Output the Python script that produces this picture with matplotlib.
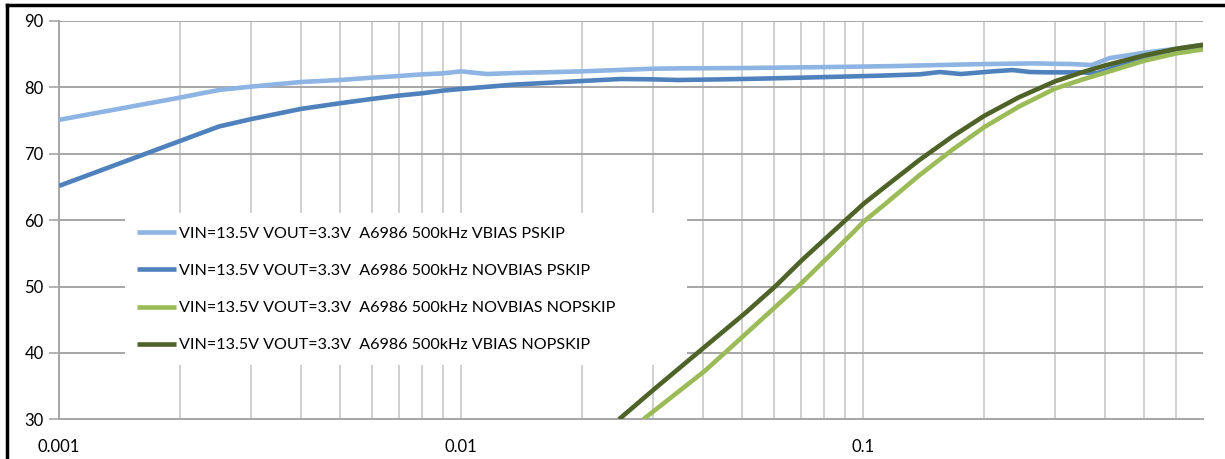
import matplotlib
matplotlib.use("Agg")
import matplotlib.pyplot as plt
from matplotlib.lines import Line2D
from matplotlib.patches import Rectangle
from matplotlib.ticker import FixedLocator, NullFormatter

plt.rcParams['font.family'] = ['Lato', 'DejaVu Sans']

# load current (A) vs efficiency (%)
x_vbias_pskip = [0.001, 0.002, 0.0025, 0.003, 0.004, 0.005, 0.006, 0.007, 0.008, 0.009,
                 0.01, 0.0116, 0.0135, 0.02, 0.03, 0.035, 0.05, 0.07, 0.094, 0.12,
                 0.167, 0.2, 0.266, 0.33, 0.37, 0.41, 0.5, 0.6, 0.7]
y_vbias_pskip = [75.1, 78.45, 79.6, 80.1, 80.8, 81.1, 81.45, 81.7, 81.95, 82.1,
                 82.4, 82.0, 82.15, 82.4, 82.8, 82.85, 82.9, 83.0, 83.1, 83.2,
                 83.4, 83.5, 83.6, 83.5, 83.35, 84.4, 85.2, 85.8, 86.4]

x_novbias_pskip = [0.001, 0.0025, 0.003, 0.004, 0.005, 0.006, 0.007, 0.008, 0.009, 0.01,
                   0.0135, 0.02, 0.025, 0.03, 0.0345, 0.045, 0.055, 0.07, 0.088, 0.11,
                   0.138, 0.155, 0.175, 0.21, 0.235, 0.26, 0.29, 0.35, 0.38, 0.43,
                   0.5, 0.6, 0.7]
y_novbias_pskip = [65.15, 74.1, 75.2, 76.75, 77.6, 78.25, 78.75, 79.1, 79.5, 79.75,
                   80.4, 80.95, 81.25, 81.2, 81.1, 81.2, 81.3, 81.45, 81.6, 81.75,
                   81.95, 82.3, 82.0, 82.4, 82.6, 82.3, 82.25, 82.25, 82.1, 83.2,
                   84.2, 85.3, 86.0]

x_novbias_nopskip = [0.0284, 0.0404, 0.0509, 0.0705, 0.0939, 0.1004, 0.1138, 0.1376,
                     0.1667, 0.2, 0.244, 0.3, 0.352, 0.4, 0.5, 0.6, 0.7]
y_novbias_nopskip = [30, 37.3, 42.8, 50.6, 58.0, 59.8, 62.5, 66.7,
                     70.6, 74.0, 77.1, 79.8, 81.2, 82.2, 84.0, 85.1, 85.7]

x_vbias_nopskip = [0.0247, 0.0303, 0.0389, 0.0509, 0.0604, 0.0705, 0.0912, 0.1004, 0.1138,
                   0.1376, 0.1667, 0.2, 0.244, 0.3, 0.352, 0.4, 0.5, 0.6, 0.7]
y_vbias_nopskip = [30, 34.6, 40.1, 46.0, 50.0, 54.0, 60.2, 62.5, 65.1,
                   69.0, 72.6, 75.7, 78.5, 80.9, 82.3, 83.3, 84.8, 85.8, 86.4]

labels = ["VIN=13.5V VOUT=3.3V  A6986 500kHz VBIAS PSKIP",
          "VIN=13.5V VOUT=3.3V  A6986 500kHz NOVBIAS PSKIP",
          "VIN=13.5V VOUT=3.3V  A6986 500kHz NOVBIAS NOPSKIP",
          "VIN=13.5V VOUT=3.3V  A6986 500kHz VBIAS NOPSKIP"]
colors = ["#8DB4E2", "#4F81BD", "#9BBB59", "#4F6228"]

fig = plt.figure(figsize=(12.25, 4.59), dpi=100)
ax = fig.add_axes([59 / 1225, 1 - 419.3 / 459, (1203 - 59) / 1225, (419.3 - 20.9) / 459])

series = [(x_vbias_pskip, y_vbias_pskip), (x_novbias_pskip, y_novbias_pskip),
          (x_novbias_nopskip, y_novbias_nopskip), (x_vbias_nopskip, y_vbias_nopskip)]
handles = []
for (xs, ys), c, lab in zip(series, colors, labels):
    h, = ax.plot(xs, ys, color=c, lw=3.3, label=lab, zorder=3,
                 solid_capstyle='butt', solid_joinstyle='round')
    handles.append(h)

ax.set_xscale('log')
ax.set_xlim(0.001, 0.7)
ax.set_ylim(30, 90)
ax.set_yticks(range(30, 91, 10))
ax.set_xticks([0.001, 0.01, 0.1])
ax.set_xticklabels(["0.001", "0.01", "0.1"])
minor = [m * d for d in (0.001, 0.01, 0.1) for m in range(2, 10) if m * d <= 0.7]
ax.xaxis.set_minor_locator(FixedLocator(minor))
ax.xaxis.set_minor_formatter(NullFormatter())

ax.set_axisbelow(True)
ax.grid(axis='y', color='#A6A6A6', lw=1.4)
ax.grid(axis='x', which='both', color='#C8C8C8', lw=1.2)
ax.tick_params(axis='y', length=7, color='#A6A6A6', width=1.2, labelsize=12, pad=4)
ax.tick_params(axis='x', which='both', length=0, labelsize=12, pad=14)
for s in ('top', 'right'):
    ax.spines[s].set_visible(False)
for s in ('left', 'bottom'):
    ax.spines[s].set_color('#A6A6A6')
    ax.spines[s].set_linewidth(1.4)

# white legend area covering the grid
ax.add_patch(Rectangle((0.0577, 0.136), 0.491, 0.382, transform=ax.transAxes,
                       facecolor='white', edgecolor='none', zorder=1))
leg = ax.legend(handles=handles, loc='upper left', bbox_to_anchor=(0.0682, 0.4835),
                frameon=False, fontsize=11.6, handlelength=2.4, handletextpad=0.2,
                labelspacing=1.42, borderpad=0, borderaxespad=0)
leg.set_zorder(4)

# page frame lines
fig.add_artist(Line2D([7 / 1225, 1], [1 - 5 / 459, 1 - 5 / 459], color='black', lw=2.5,
                      transform=fig.transFigure))
fig.add_artist(Line2D([7 / 1225, 7 / 1225], [0, 1 - 5 / 459], color='black', lw=2.5,
                      transform=fig.transFigure))

fig.savefig("out.png", dpi=100)
